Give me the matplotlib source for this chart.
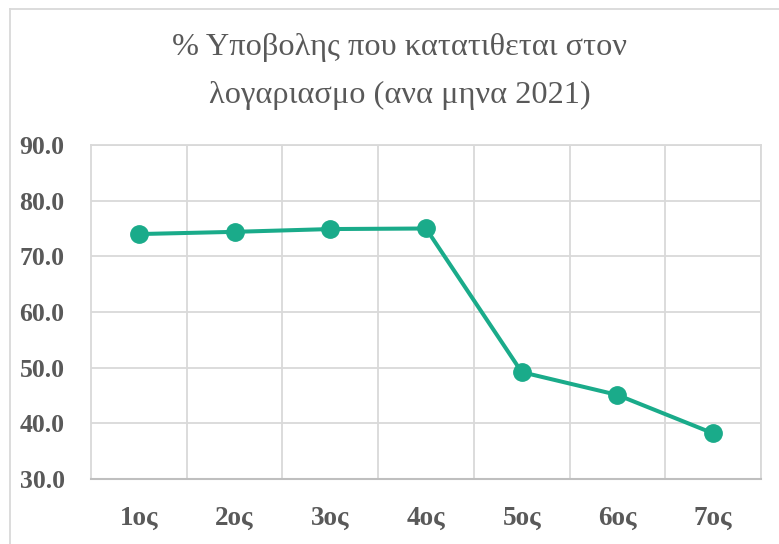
import matplotlib.pyplot as plt
from matplotlib.lines import Line2D

months = ["1ος", "2ος", "3ος", "4ος", "5ος", "6ος", "7ος"]
share = [74.0, 74.4, 74.9, 75.0, 49.2, 45.1, 38.2]
yticks = [30, 40, 50, 60, 70, 80, 90]

W, H = 779, 544
TEXT = "#595959"
GRID = "#d9d9d9"
LINE = "#1aab8a"

plt.rcParams['font.family'] = ['Liberation Serif', 'DejaVu Serif']

fig = plt.figure(figsize=(W / 100, H / 100), dpi=100)
# plot area in pixels: left 91, right 761, top 145, bottom 479
ax = fig.add_axes([91 / W, 1 - 479 / H, (761 - 91) / W, (479 - 145) / H])

x = list(range(len(months)))
ax.plot(x, share, color=LINE, lw=2.9, marker="o", ms=12.5, zorder=3,
        solid_capstyle="round")

ax.set_xlim(-0.5, len(months) - 0.5)
ax.set_ylim(30, 90)
ax.set_yticks(yticks)
ax.set_yticklabels([f"{v:.1f}" for v in yticks])
ax.set_xticks(x)
ax.set_xticklabels(months)

# vertical gridlines sit between categories
for b in [i + 0.5 for i in range(len(months))]:
    ax.axvline(b, color=GRID, lw=1.3, zorder=1)
ax.yaxis.grid(True, color=GRID, lw=1.3, zorder=1)
ax.set_axisbelow(True)

for side in ["top", "right", "left"]:
    ax.spines[side].set_color(GRID)
    ax.spines[side].set_linewidth(1.3)
ax.spines["bottom"].set_color("#bfbfbf")
ax.spines["bottom"].set_linewidth(1.5)

ax.tick_params(axis="y", length=0, pad=19, labelsize=18.5, labelcolor=TEXT)
ax.tick_params(axis="x", length=0, pad=19, labelsize=19.5, labelcolor=TEXT)
for lab in ax.get_xticklabels() + ax.get_yticklabels():
    lab.set_fontweight("bold")

# title is centred on the chart frame, not on the image
tx = 400 / W
fig.text(tx, 1 - 48 / H, "% Υποβολης που κατατιθεται στον",
         ha="center", va="center", fontsize=23.3, color=TEXT)
fig.text(tx, 1 - 95 / H, "λογαριασμο (ανα μηνα 2021)",
         ha="center", va="center", fontsize=23.3, color=TEXT)

# chart frame (only left and top edges are visible in the crop)
fig.add_artist(Line2D([10 / W, 10 / W], [0, 1 - 9 / H], color=GRID, lw=1.3))
fig.add_artist(Line2D([10 / W, 1], [1 - 9 / H, 1 - 9 / H], color=GRID, lw=1.3))

fig.savefig("out.png", dpi=100)
